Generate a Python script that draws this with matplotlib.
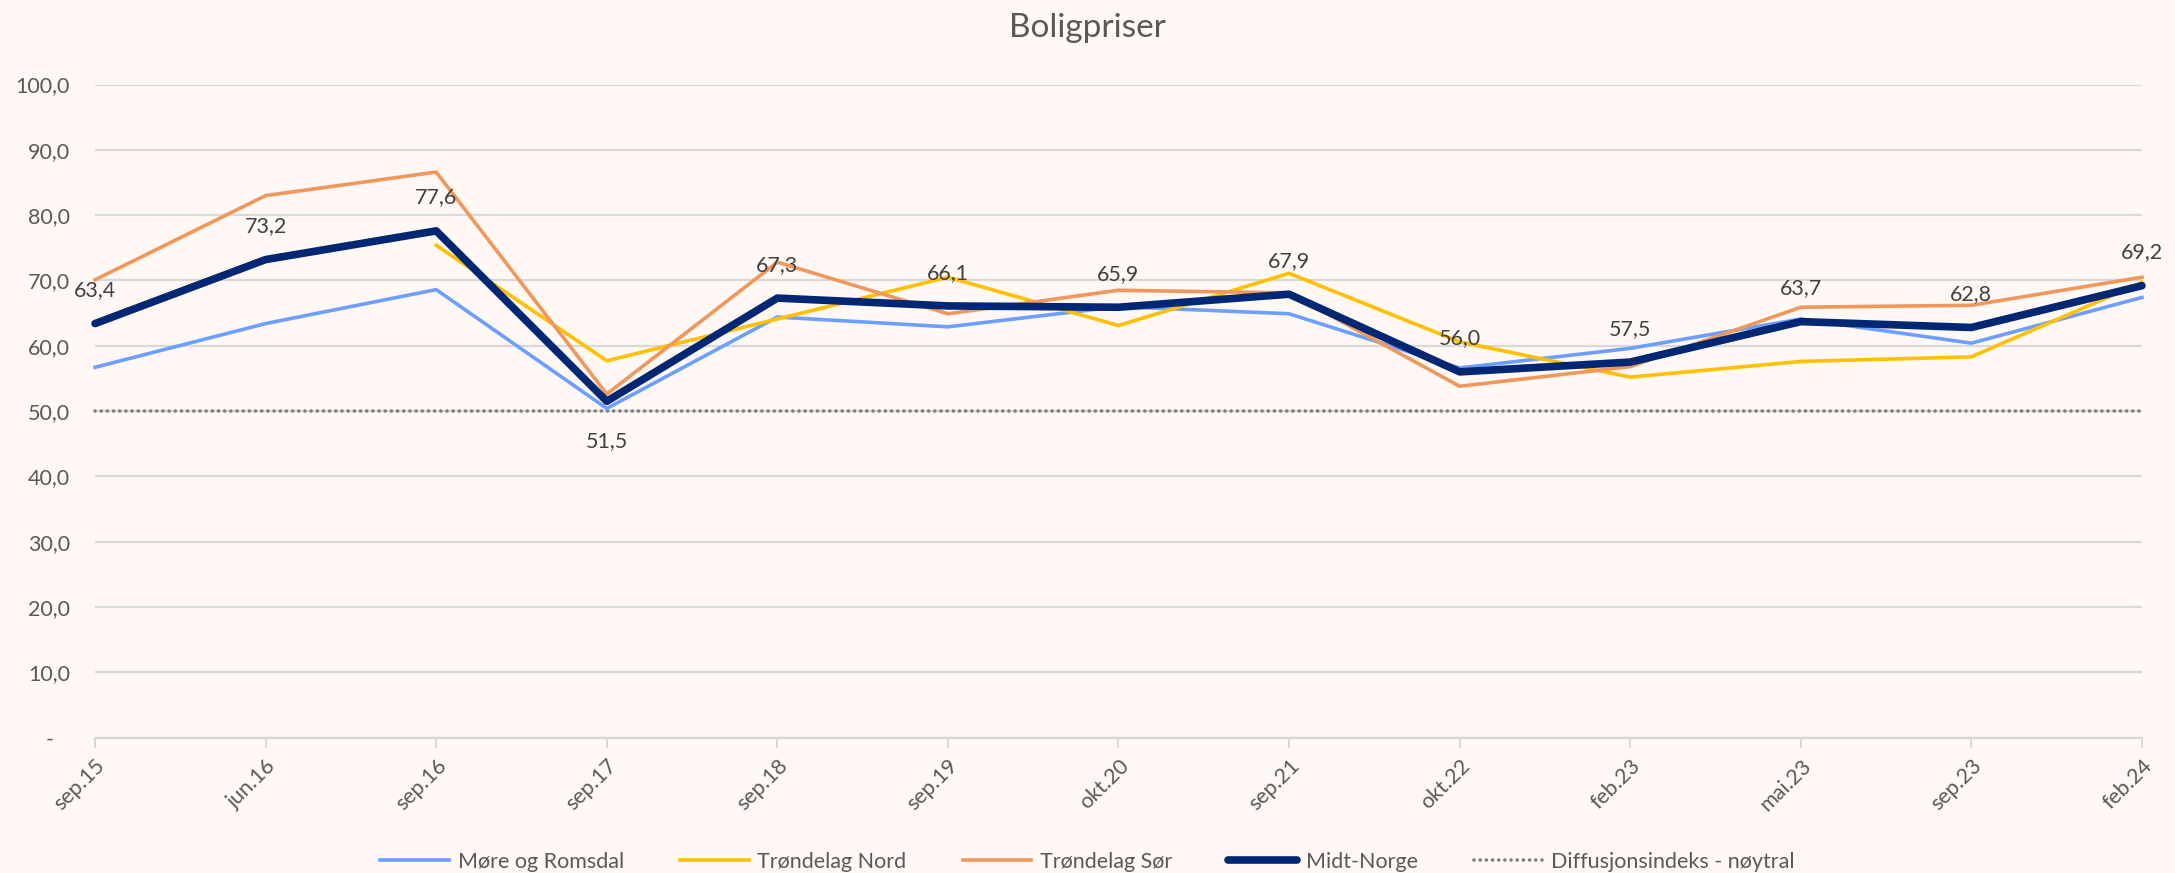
import matplotlib.pyplot as plt
from matplotlib.ticker import FuncFormatter

plt.rcParams['font.family'] = ['Lato', 'DejaVu Sans']

# Categories and series
periods = ["sep.15", "jun.16", "sep.16", "sep.17", "sep.18", "sep.19", "okt.20",
           "sep.21", "okt.22", "feb.23", "mai.23", "sep.23", "feb.24"]
more_romsdal = [56.7, 63.4, 68.6, 50.4, 64.4, 62.9, 66.0, 64.9, 56.6, 59.6, 64.1, 60.4, 67.4]
trondelag_nord = [None, None, 75.4, 57.7, 64.1, 70.5, 63.1, 71.1, 60.6, 55.2, 57.6, 58.3, 69.7]
trondelag_sor = [70.1, 83.0, 86.6, 52.6, 72.8, 64.9, 68.5, 68.1, 53.8, 56.8, 65.9, 66.2, 70.5]
midt_norge = [63.4, 73.2, 77.6, 51.5, 67.3, 66.1, 65.9, 67.9, 56.0, 57.5, 63.7, 62.8, 69.2]
neutral = [50.0] * len(periods)

bg = "#FFF8F5"
fig = plt.figure(figsize=(21.75, 8.73), dpi=100, facecolor=bg)
ax = fig.add_axes([0.0437, 0.1552, 0.9411, 0.7479])
ax.set_facecolor(bg)

x = list(range(len(periods)))
xn = [i for i, v in zip(x, trondelag_nord) if v is not None]
yn = [v for v in trondelag_nord if v is not None]

ax.plot(x, more_romsdal, color="#6C9FFF", lw=2.6, label="Møre og Romsdal", clip_on=False, zorder=3)
ax.plot(xn, yn, color="#FFC000", lw=2.6, label="Trøndelag Nord", clip_on=False, zorder=3)
ax.plot(x, trondelag_sor, color="#F0985C", lw=2.6, label="Trøndelag Sør", clip_on=False, zorder=3)
ax.plot(x, midt_norge, color="#002773", lw=5.5, label="Midt-Norge", clip_on=False, zorder=5,
        solid_capstyle="round")
ax.plot(x, neutral, color="#7F7F7F", lw=2.6, ls=(0, (0.01, 1.7)), dash_capstyle="round",
        label="Diffusjonsindeks - nøytral", clip_on=False, zorder=2)

# value labels for Midt-Norge
for i, v in enumerate(midt_norge):
    off = -29 if i == 3 else 24
    ax.annotate(f"{v:.1f}".replace(".", ","), (i, v), xytext=(0, off), textcoords="offset points",
                ha="center", va="center", fontsize=15.5, color="#404040", zorder=6)

ax.set_xlim(0, len(periods) - 1)
ax.set_ylim(0, 100)
ax.set_yticks(range(0, 101, 10))
ax.yaxis.set_major_formatter(FuncFormatter(lambda v, p: "-   " if v == 0 else f"{v:.1f}".replace(".", ",")))
ax.set_xticks(x)
ax.set_xticklabels(periods, rotation=45, ha="right", rotation_mode="anchor")

ax.grid(axis="y", color="#D9D9D9", lw=1.6, zorder=0)
for s in ["top", "right", "left"]:
    ax.spines[s].set_visible(False)
ax.spines["bottom"].set_color("#D9D9D9")
ax.spines["bottom"].set_linewidth(1.6)
ax.tick_params(axis="y", length=0, pad=18, labelsize=15.5, labelcolor="#595959")
ax.tick_params(axis="x", length=7, width=1.4, color="#D9D9D9", pad=6, labelsize=15.5, labelcolor="#595959")

fig.text(0.5, 0.968, "Boligpriser", ha="center", va="center", fontsize=24, color="#595959")

ax.legend(loc="center", bbox_to_anchor=(0.5, 0.013), bbox_transform=fig.transFigure, ncol=5,
          frameon=False, fontsize=15.5, handlelength=3.2, columnspacing=2.6, handletextpad=0.4,
          labelcolor="#595959")

fig.savefig("out.png", dpi=100, facecolor=bg)
